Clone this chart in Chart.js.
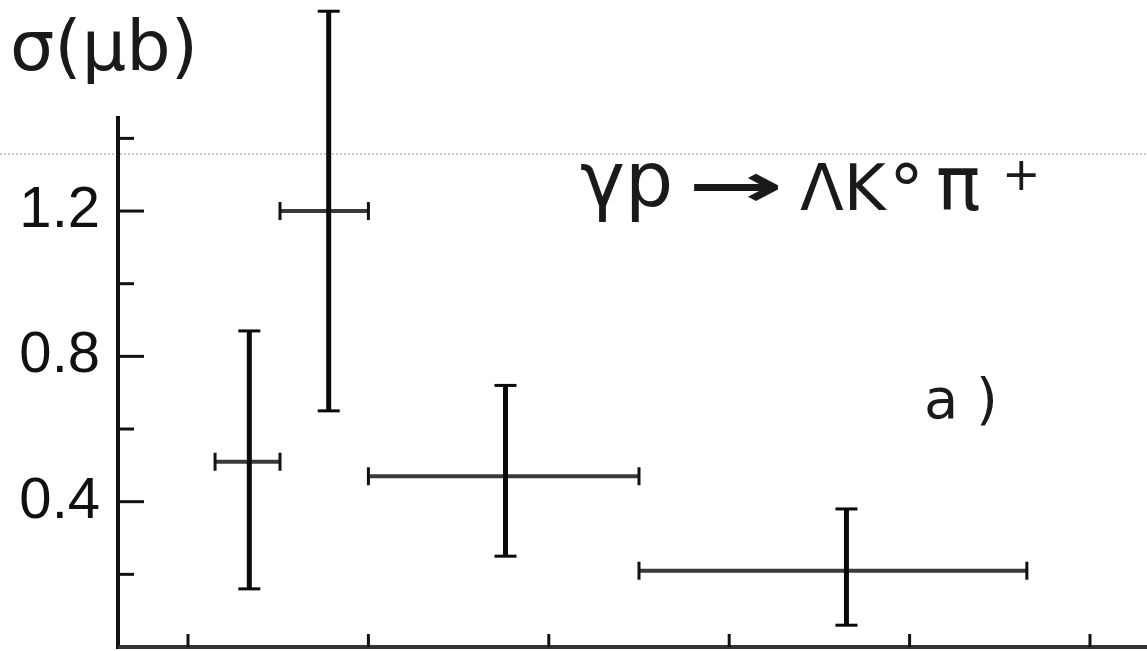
<!DOCTYPE html>
<html lang="en">
<head>
<meta charset="UTF-8">
<title>γp → ΛK°π+</title>
<style>
  html,body{margin:0;padding:0;background:#fff;}
  .plot{width:1147px;height:651px;position:relative;}
</style>
</head>
<body>
<div class="plot"><canvas id="xsec" width="1147" height="651"></canvas></div>
<script src="https://cdn.jsdelivr.net/npm/chart.js"></script>
<script>
// energy bins (axis units, the ticks carry no labels)
const binLo  = [1.15, 1.51, 2.00, 3.50];
const binHi  = [1.51, 2.00, 3.50, 5.65];
const binMid = [1.34, 1.78, 2.76, 4.65];
// cross section in microbarn and the ends of its error bars
const sigma   = [0.51, 1.20, 0.47, 0.21];
const sigmaHi = [0.87, 1.75, 0.72, 0.38];
const sigmaLo = [0.16, 0.65, 0.25, 0.06];
// y tick marks (only some labelled) and x tick marks
const yTicks  = [0.2, 0.4, 0.6, 0.8, 1.0, 1.2, 1.4];
const yLabels = [0.4, 0.8, 1.2];
const xTicks  = [1, 2, 3, 4, 5, 6];

const ink = '#111';

function line(ctx, x1, y1, x2, y2) {
  ctx.beginPath(); ctx.moveTo(x1, y1); ctx.lineTo(x2, y2); ctx.stroke();
}

const crosses = {
  id: 'crosses',
  afterDatasetsDraw(chart) {
    const { ctx, chartArea: a, scales: { x, y } } = chart;
    const y0 = y.getPixelForValue(0);
    ctx.save();
    ctx.lineCap = 'butt';

    // faint dotted line running across the sheet
    ctx.strokeStyle = '#999'; ctx.lineWidth = 1; ctx.setLineDash([2, 2]);
    line(ctx, 0, 154, chart.width, 154);
    ctx.setLineDash([]);

    // axes
    ctx.strokeStyle = ink; ctx.lineWidth = 4;
    line(ctx, a.left, y0 + 2, a.left, a.top);
    ctx.strokeStyle = '#333';
    line(ctx, a.left, y0, a.right, y0);

    // y ticks, pointing inward
    ctx.strokeStyle = ink; ctx.lineWidth = 3;
    yTicks.forEach(v => {
      const py = y.getPixelForValue(v);
      const len = yLabels.includes(v) ? 26 : 16;
      line(ctx, a.left, py, a.left + len, py);
    });
    // x ticks
    xTicks.forEach(v => {
      const px = x.getPixelForValue(v);
      line(ctx, px, y0, px, y0 - 13);
    });

    // error crosses
    sigma.forEach((s, i) => {
      const px = x.getPixelForValue(binMid[i]);
      const py = y.getPixelForValue(s);
      const xl = x.getPixelForValue(binLo[i]);
      const xr = x.getPixelForValue(binHi[i]);
      const yt = y.getPixelForValue(sigmaHi[i]);
      const yb = y.getPixelForValue(sigmaLo[i]);

      ctx.strokeStyle = '#3a3a3a'; ctx.lineWidth = 4;
      line(ctx, xl, py, xr, py);
      ctx.lineWidth = 3; ctx.strokeStyle = ink;
      line(ctx, xl, py - 9, xl, py + 9);
      line(ctx, xr, py - 9, xr, py + 9);

      ctx.strokeStyle = '#0a0a0a'; ctx.lineWidth = 5;
      line(ctx, px, yt, px, yb);
      ctx.lineWidth = 3;
      line(ctx, px - 11, yt, px + 11, yt);
      line(ctx, px - 11, yb, px + 11, yb);
    });

    // lettering
    ctx.fillStyle = '#1a1a1a';
    ctx.textBaseline = 'alphabetic';
    ctx.textAlign = 'left';
    ctx.font = '70px "DejaVu Sans"';
    ctx.fillText('σ(μb)', 10, 70);

    ctx.font = '76px "DejaVu Sans"';
    ctx.fillText('γp', 580, 206);
    // arrow stretched to the drawn length
    ctx.save();
    ctx.font = 'bold 60px "DejaVu Sans"';
    const aw = ctx.measureText('→').width;
    ctx.translate(688, 206);
    ctx.scale(96 / aw, 1);
    ctx.fillText('→', 0, 0);
    ctx.restore();
    ctx.font = '64px "DejaVu Sans"';
    ctx.fillText('ΛK', 800, 210);
    ctx.font = '70px "DejaVu Sans"';
    ctx.fillText('°', 889, 214);
    ctx.font = '74px "DejaVu Sans"';
    ctx.fillText('π', 936, 210);
    ctx.font = '46px "DejaVu Sans"';
    ctx.fillText('+', 1002, 190);

    ctx.font = '56px "DejaVu Sans"';
    ctx.fillText('a )', 924, 418);
    ctx.restore();
  }
};

new Chart(document.getElementById('xsec'), {
  type: 'scatter',
  data: {
    datasets: [{
      label: 'σ',
      data: sigma.map((s, i) => ({ x: binMid[i], y: s })),
      pointRadius: 0,
      showLine: false
    }]
  },
  options: {
    responsive: false,
    animation: false,
    layout: { padding: { left: 0, right: 0, top: 116, bottom: 4 } },
    plugins: { legend: { display: false }, tooltip: { enabled: false } },
    scales: {
      x: {
        type: 'linear', min: 0.612, max: 6.316,
        grid: { display: false, drawTicks: false }, border: { display: false },
        ticks: { display: false },
        afterFit(scale) {
          scale.height = 0;
          scale.paddingLeft = 0; scale.paddingRight = 0;
        }
      },
      y: {
        type: 'linear', min: 0, max: 1.4616,
        grid: { display: false, drawTicks: false }, border: { display: false },
        ticks: {
          stepSize: 0.2, autoSkip: false, padding: 18, color: ink,
          font: { family: '"Liberation Sans"', size: 58 },
          callback: v => yLabels.some(l => Math.abs(l - v) < 1e-6) ? v.toFixed(1) : ''
        },
        afterFit(scale) {
          scale.width = 118;
          scale.paddingTop = 0; scale.paddingBottom = 0;
        }
      }
    }
  },
  plugins: [crosses]
});
</script>
</body>
</html>
